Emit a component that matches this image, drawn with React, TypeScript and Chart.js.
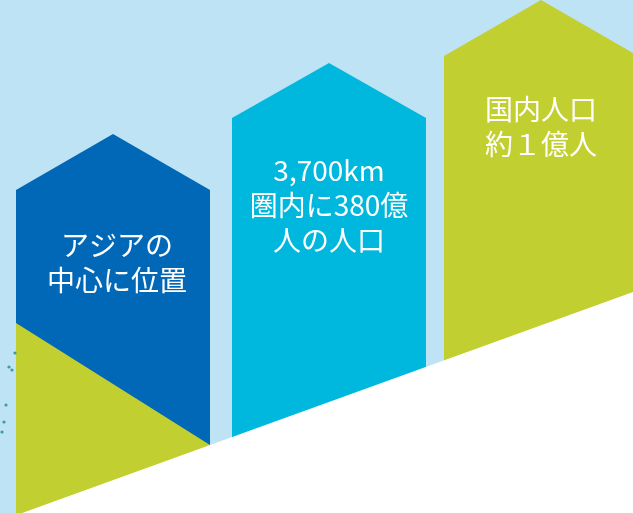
import React, { useEffect, useRef } from 'react';
import Chart from 'chart.js/auto';

// Three "house" columns (infographic), values in chart units (y up, x across)
const categories = ['アジアの中心に位置', '3,700km圏内に380億人の人口', '国内人口約1億人'];
const labelLines = [
  ['アジアの', '中心に位置'],
  ['3,700km', '圏内に380億', '人の人口'],
  ['国内人口', '約１億人'],
];
const barLeft = [16, 232, 444];
const barRight = [210, 426, 638];
const shoulderValues = [323, 395, 457];
const peakValues = [379, 450, 513];
const labelCenterX = [117, 329, 541];
const labelCenterValues = [250, 308, 386];
const barColors = ['#0068b7', '#00b7dd', '#c2cf30'];

// White ground slope
const groundX = [0, 633];
const groundValues = [-8, 221];

// Lime wedge under the first column
const wedgeX = [16, 210];
const wedgeValues = [190, 68];

// Small map fragments at the left edge
const mapDotX = [15, 9, 12, 6, 4, 2];
const mapDotY = [160, 146, 143, 108, 91, 81];

const X_MAX = 633;
const Y_MAX = 513;

export default function App() {
  const ref = useRef<HTMLCanvasElement | null>(null);

  useEffect(() => {
    if (!ref.current) return;

    const bgPlugin = {
      id: 'bg',
      beforeDraw(chart: any) {
        const { ctx, width, height } = chart;
        ctx.save();
        ctx.fillStyle = '#bde3f5';
        ctx.fillRect(0, 0, width, height);
        ctx.restore();
      },
    };

    const labelPlugin = {
      id: 'houseLabels',
      afterDatasetsDraw(chart: any) {
        const { ctx } = chart;
        const xs = chart.scales.x;
        const ys = chart.scales.y;
        ctx.save();
        ctx.fillStyle = '#ffffff';
        ctx.textAlign = 'center';
        ctx.textBaseline = 'middle';
        ctx.font = '400 28px "Noto Sans CJK JP", "Noto Sans", sans-serif';
        const lh = 35;
        labelLines.forEach((lines, i) => {
          const cx = xs.getPixelForValue(labelCenterX[i]);
          const cy = ys.getPixelForValue(labelCenterValues[i]);
          lines.forEach((t, k) => {
            ctx.fillText(t, cx, cy + (k - (lines.length - 1) / 2) * lh);
          });
        });
        ctx.restore();
      },
    };

    const barDatasets = categories.map((c, i) => ({
      label: c,
      data: [
        { x: barLeft[i], y: shoulderValues[i] },
        { x: (barLeft[i] + barRight[i]) / 2, y: peakValues[i] },
        { x: barRight[i], y: shoulderValues[i] },
      ],
      borderWidth: 0,
      borderColor: barColors[i],
      backgroundColor: barColors[i],
      fill: 'start',
      pointRadius: 0,
    }));

    const chart = new Chart(ref.current, {
      type: 'line',
      data: {
        datasets: [
          {
            label: 'map',
            data: mapDotX.map((x, i) => ({ x, y: mapDotY[i] })),
            showLine: false,
            pointRadius: 1.6,
            pointHoverRadius: 0,
            pointBorderWidth: 0,
            pointBackgroundColor: '#3f9aa6',
            borderColor: '#3f9aa6',
            backgroundColor: '#3f9aa6',
            fill: false,
          },
          {
            label: 'ground',
            data: groundX.map((x, i) => ({ x, y: groundValues[i] })),
            borderWidth: 0,
            borderColor: '#ffffff',
            backgroundColor: '#ffffff',
            fill: 'start',
            pointRadius: 0,
          },
          {
            label: 'wedge',
            data: wedgeX.map((x, i) => ({ x, y: wedgeValues[i] })),
            borderWidth: 0,
            borderColor: '#c2cf30',
            backgroundColor: '#c2cf30',
            fill: 'start',
            pointRadius: 0,
          },
          ...barDatasets,
        ] as any,
      },
      options: {
        animation: false,
        responsive: false,
        events: [],
        layout: { padding: 0, autoPadding: false },
        elements: { line: { tension: 0 }, point: { hoverRadius: 0, radius: 0 } },
        plugins: {
          legend: { display: false },
          tooltip: { enabled: false },
          filler: { propagate: false },
        },
        scales: {
          x: { type: 'linear', min: 0, max: X_MAX, display: false },
          y: { type: 'linear', min: 0, max: Y_MAX, display: false },
        },
      },
      plugins: [bgPlugin, labelPlugin],
    });

    return () => chart.destroy();
  }, []);

  return (
    <div style={{ position: 'fixed', left: 0, top: 0, width: 633, height: 513 }}>
      <canvas ref={ref} width={633} height={513} style={{ display: 'block' }} />
    </div>
  );
}
